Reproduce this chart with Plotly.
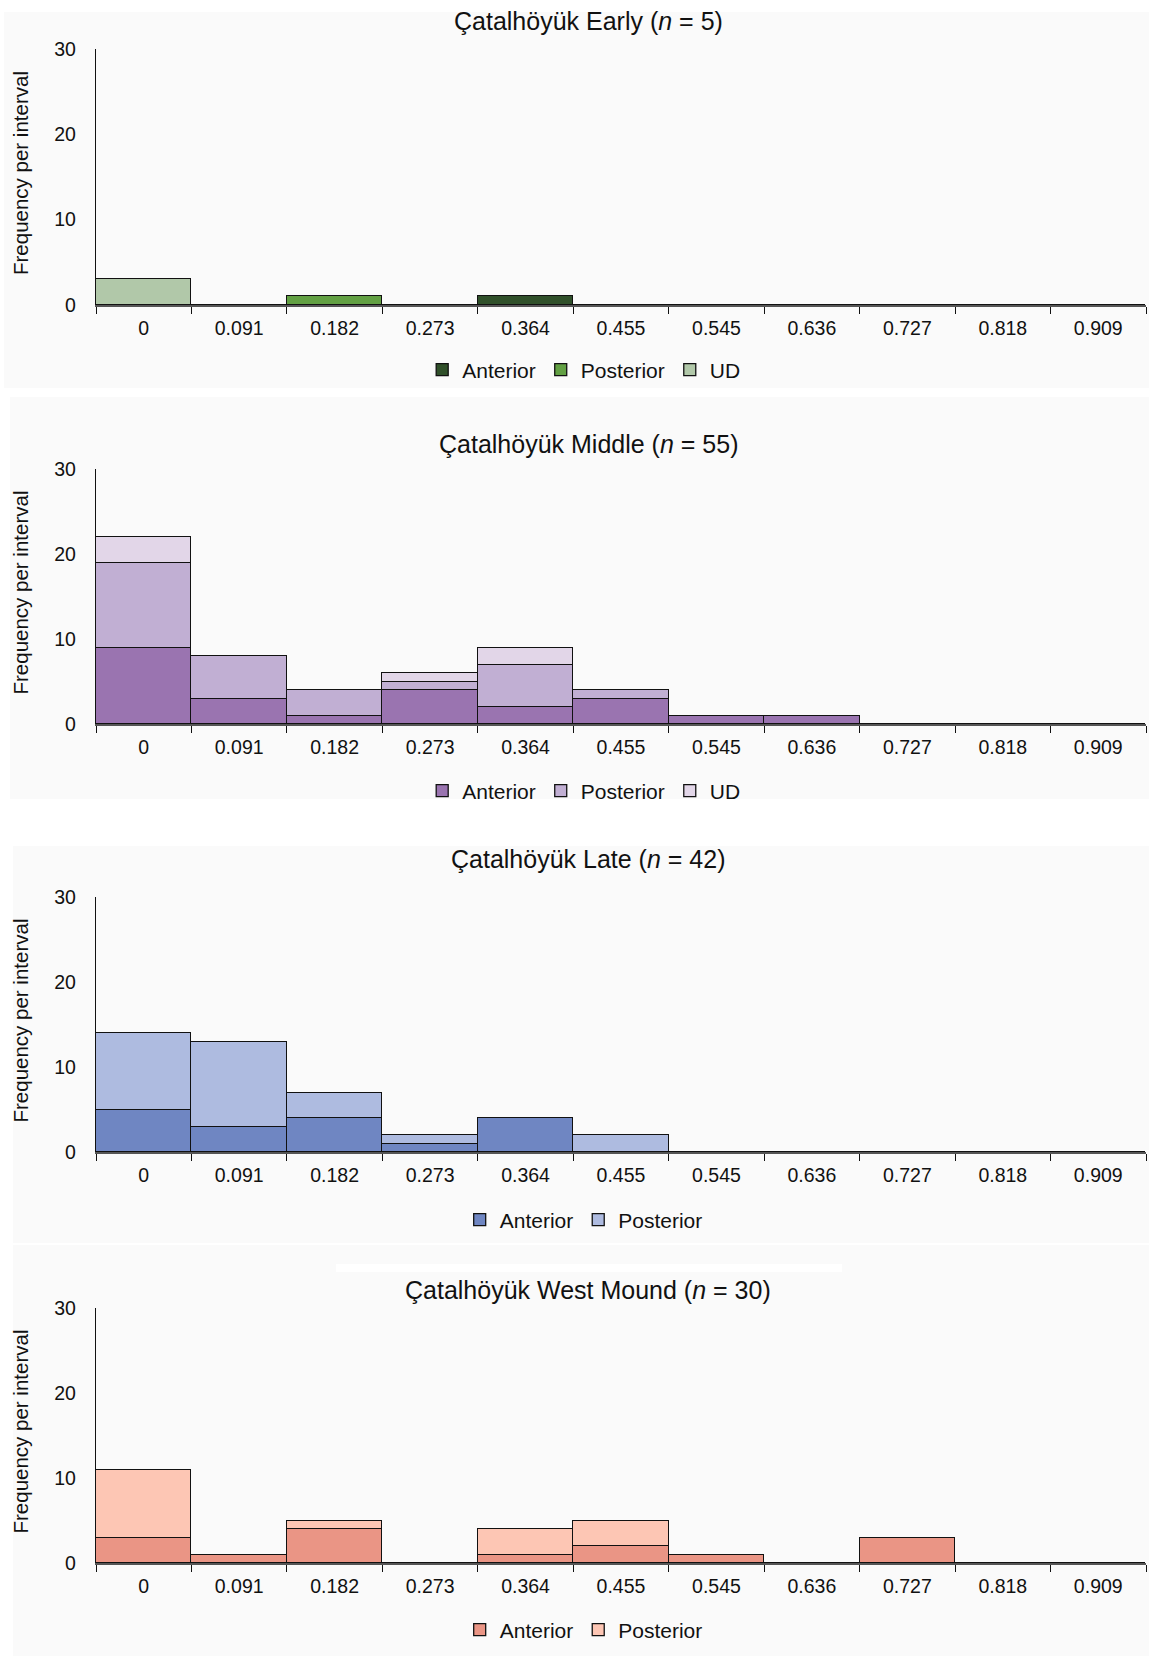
import plotly.graph_objects as go

W, H = 1149, 1656

bins = ["0", "0.091", "0.182", "0.273", "0.364", "0.455", "0.545", "0.636", "0.727", "0.818", "0.909"]

# Çatalhöyük Early
early_anterior = [0, 0, 0, 0, 1, 0, 0, 0, 0, 0, 0]
early_posterior = [0, 0, 1, 0, 0, 0, 0, 0, 0, 0, 0]
early_ud = [3, 0, 0, 0, 0, 0, 0, 0, 0, 0, 0]

# Çatalhöyük Middle
middle_anterior = [9, 3, 1, 4, 2, 3, 1, 1, 0, 0, 0]
middle_posterior = [10, 5, 3, 1, 5, 1, 0, 0, 0, 0, 0]
middle_ud = [3, 0, 0, 1, 2, 0, 0, 0, 0, 0, 0]

# Çatalhöyük Late
late_anterior = [5, 3, 4, 1, 4, 0, 0, 0, 0, 0, 0]
late_posterior = [9, 10, 3, 1, 0, 2, 0, 0, 0, 0, 0]

# Çatalhöyük West Mound
west_anterior = [3, 1, 4, 0, 1, 2, 1, 0, 3, 0, 0]
west_posterior = [8, 0, 1, 0, 3, 3, 0, 0, 0, 0, 0]

titles = ["Çatalhöyük Early (<i>n</i> = 5)", "Çatalhöyük Middle (<i>n</i> = 55)",
          "Çatalhöyük Late (<i>n</i> = 42)", "Çatalhöyük West Mound (<i>n</i> = 30)"]

panels = [
    [("Anterior", early_anterior, "#30502a"), ("Posterior", early_posterior, "#62a043"), ("UD", early_ud, "#b1c8a9")],
    [("Anterior", middle_anterior, "#9a74b0"), ("Posterior", middle_posterior, "#c1afd3"), ("UD", middle_ud, "#e2d6e8")],
    [("Anterior", late_anterior, "#6f86c2"), ("Posterior", late_posterior, "#aebbe0")],
    [("Anterior", west_anterior, "#ea9585"), ("Posterior", west_posterior, "#fdc6b4")],
]

# pixel layout (top, bottom of plot area; title y; legend y; background box)
plot_px = [(49, 305), (469, 724), (897, 1152), (1308, 1563)]
title_px = [21, 444, 859, 1290]
legend_px = [370, 791, 1220, 1630]
bg_px = [(4, 12, 1149, 388), (10, 397, 1149, 799), (13, 846, 1149, 1243), (13, 1245, 1149, 1656)]
x_left, x_right = 96, 1146

def py(p):
    return 1 - p / H

def px(p):
    return p / W

FONT = "Liberation Sans, Arial, sans-serif"

fig = go.Figure()
shapes = []
annotations = []
layout_extra = {}

for i, (series, title) in enumerate(zip(panels, titles)):
    n = i + 1
    xa = "x" if n == 1 else f"x{n}"
    ya = "y" if n == 1 else f"y{n}"
    leg = "legend" if n == 1 else f"legend{n}"
    for name, vals, col in series:
        fig.add_trace(go.Bar(
            x=bins, y=vals, name=name, xaxis=xa, yaxis=ya, legend=leg,
            marker=dict(color=col, line=dict(color="#111111", width=1.3)),
        ))
    top, bot = plot_px[i]
    layout_extra[f"xaxis{'' if n == 1 else n}"] = dict(
        domain=[px(x_left), px(x_right)], anchor=ya, type="category",
        categoryorder="array", categoryarray=bins,
        showline=True, linecolor="#555555", linewidth=2.2,
        ticks="outside", tickson="boundaries", ticklen=7, tickcolor="#111111", tickwidth=1.3,
        showgrid=False, zeroline=False,
        tickfont=dict(family=FONT, size=19.5, color="#111111"),
        ticklabelstandoff=4,
    )
    layout_extra[f"yaxis{'' if n == 1 else n}"] = dict(
        domain=[py(bot), py(top)], anchor=xa, range=[0, 30],
        tickvals=[0, 10, 20, 30], showline=True, linecolor="#111111", linewidth=1.3,
        ticks="", showgrid=False, zeroline=False,
        tickfont=dict(family=FONT, size=19.5, color="#111111"),
        ticklabelstandoff=15,
    )
    layout_extra[leg] = dict(
        orientation="h", x=0.508, xanchor="center", y=py(legend_px[i]), yanchor="middle",
        font=dict(family=FONT, size=21, color="#111111"), bgcolor="rgba(0,0,0,0)",
        itemwidth=30, traceorder="normal",
    )
    annotations.append(dict(
        text=title, x=0.512, y=py(title_px[i]), xref="paper", yref="paper",
        xanchor="center", yanchor="middle", showarrow=False,
        font=dict(family=FONT, size=25, color="#111111"),
    ))
    annotations.append(dict(
        text="Frequency per interval", x=px(20), y=py((top + bot) / 2 - 4), xref="paper", yref="paper",
        xanchor="center", yanchor="middle", showarrow=False, textangle=-90,
        font=dict(family=FONT, size=20.5, color="#111111"),
    ))
    x0, y0, x1, y1 = bg_px[i]
    shapes.append(dict(type="rect", xref="paper", yref="paper", x0=px(x0), x1=px(x1),
                       y0=py(y1), y1=py(y0), fillcolor="#fafafa", line=dict(width=0), layer="below"))

shapes.append(dict(type="rect", xref="paper", yref="paper", x0=px(336), x1=px(842),
                   y0=py(1272), y1=py(1264), fillcolor="#ffffff", line=dict(width=0), layer="below"))

fig.update_layout(
    width=W, height=H, margin=dict(l=0, r=0, t=0, b=0, autoexpand=False),
    paper_bgcolor="#ffffff", plot_bgcolor="rgba(0,0,0,0)",
    barmode="stack", bargap=0, showlegend=True,
    shapes=shapes, annotations=annotations,
    font=dict(family=FONT, color="#111111"),
    **layout_extra,
)

fig.write_html(
    "out.html",
    config={"displayModeBar": False},
    post_script="document.documentElement.style.margin='0';document.body.style.margin='0';"
                "document.body.style.padding='0';document.documentElement.style.overflow='hidden';",
)
